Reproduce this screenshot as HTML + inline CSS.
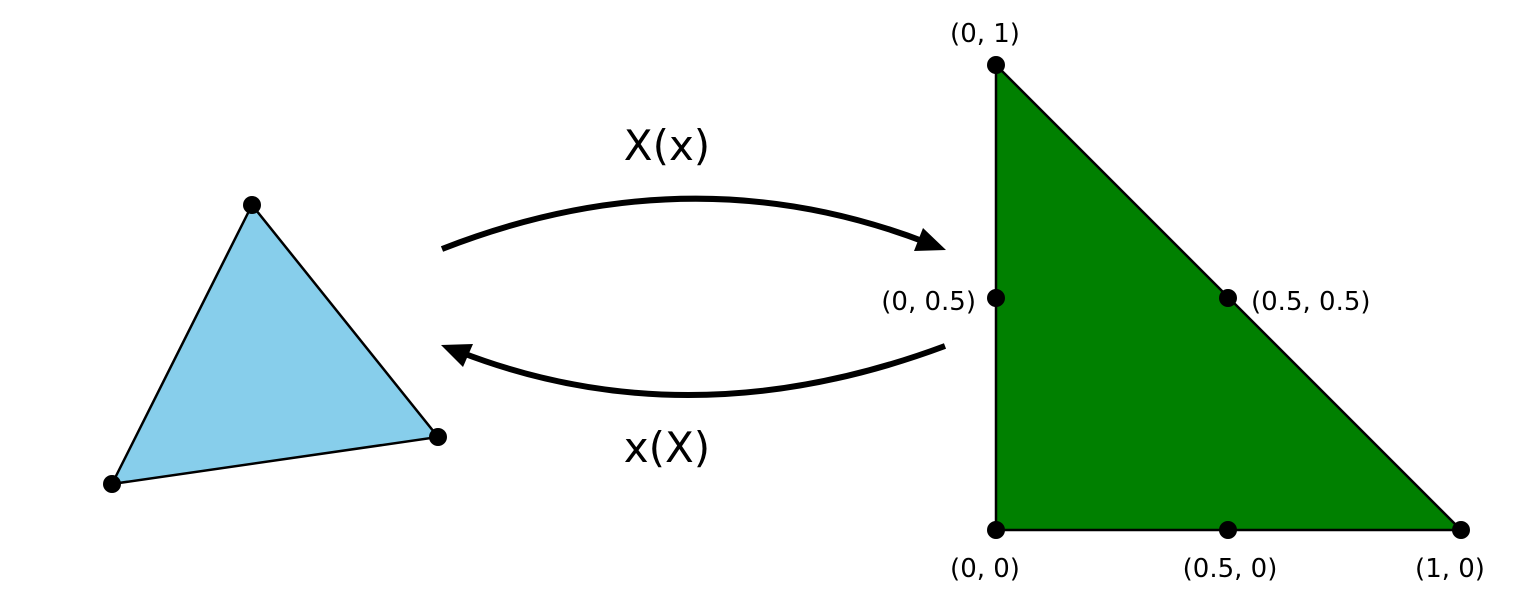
<!DOCTYPE html>
<html><head><style>body{margin:0;background:#fff}</style></head><body>
<svg width="1526" height="602" viewBox="0 0 1526 602" xmlns="http://www.w3.org/2000/svg" font-family="DejaVu Sans, Liberation Sans, sans-serif">
<polygon points="252,205 438,437 112,484" fill="#87ceeb" stroke="#000" stroke-width="2.5"/>
<circle cx="252" cy="205" r="9"/><circle cx="438" cy="437" r="9"/><circle cx="112" cy="484" r="9"/>
<polygon points="996,65 1461,530 996,530" fill="#008000" stroke="#000" stroke-width="2.5"/>
<g>
<circle cx="996" cy="65" r="9"/><circle cx="996" cy="298" r="9"/><circle cx="1228" cy="298" r="9"/>
<circle cx="996" cy="530" r="9"/><circle cx="1228" cy="530" r="9"/><circle cx="1461" cy="530" r="9"/>
</g>
<path d="M442,249 Q690,152 925,242" fill="none" stroke="#000" stroke-width="6"/>
<polygon points="946,250 914,251 923,228" fill="#000"/>
<path d="M945,346 Q690,441 460,352" fill="none" stroke="#000" stroke-width="6"/>
<polygon points="441,345 473,344 463,367" fill="#000"/>
<g font-size="26" fill="#000">
<text x="985" y="42" text-anchor="middle">(0, 1)</text>
<text x="976" y="310" text-anchor="end">(0, 0.5)</text>
<text x="1251" y="310">(0.5, 0.5)</text>
<text x="985" y="577" text-anchor="middle">(0, 0)</text>
<text x="1230" y="577" text-anchor="middle">(0.5, 0)</text>
<text x="1450" y="577" text-anchor="middle">(1, 0)</text>
</g>
<g font-size="42" fill="#000" text-anchor="middle">
<text x="667" y="160">X(x)</text>
<text x="667" y="462">x(X)</text>
</g>
</svg>
</body></html>
